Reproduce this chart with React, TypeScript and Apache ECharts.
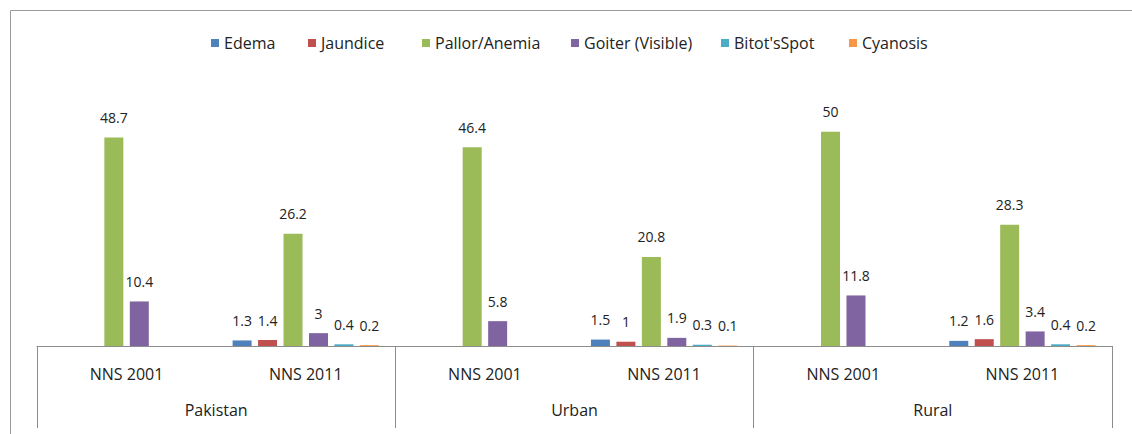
import React, { useEffect, useRef } from "react";
import * as echarts from "echarts";

const categories = ["NNS 2001", "NNS 2011", "NNS 2001", "NNS 2011", "NNS 2001", "NNS 2011"];
const groups = ["Pakistan", "Urban", "Rural"];
const seriesNames = ["Edema", "Jaundice", "Pallor/Anemia", "Goiter (Visible)", "Bitot'sSpot", "Cyanosis"];
const edema = [null, 1.3, null, 1.5, null, 1.2];
const jaundice = [null, 1.4, null, 1, null, 1.6];
const pallor = [48.7, 26.2, 46.4, 20.8, 50, 28.3];
const goiter = [10.4, 3, 5.8, 1.9, 11.8, 3.4];
const bitot = [null, 0.4, null, 0.3, null, 0.4];
const cyanosis = [null, 0.2, null, 0.1, null, 0.2];
const colors = ["#4F81BD", "#C0504D", "#9BBB59", "#8064A2", "#4BACC6", "#F79646"];

const FONT = "Open Sans";
const legendLefts = [206, 303, 417, 566, 716, 844];

export default function App() {
  const ref = useRef<HTMLDivElement>(null);
  useEffect(() => {
    document.body.style.margin = "0";
    const chart = echarts.init(ref.current!, null, { renderer: "svg" });
    const values = [edema, jaundice, pallor, goiter, bitot, cyanosis];
    chart.setOption({
      animation: false,
      color: colors,
      textStyle: { fontFamily: FONT },
      graphic: [
        {
          type: "rect",
          left: 8,
          top: 8,
          shape: { width: 1140, height: 440 },
          style: { fill: "none", stroke: "#9a9a9a", lineWidth: 1 },
          silent: true,
        },
      ],
      legend: seriesNames.map((name, i) => ({
        top: 30,
        left: legendLefts[i],
        itemWidth: 8,
        itemHeight: 8,
        itemGap: 5,
        icon: "rect",
        selectedMode: false,
        textStyle: { fontFamily: FONT, fontSize: 16, color: "#222" },
        data: [name],
      })),
      grid: { left: 37, right: 20, top: 89, bottom: 88 },
      xAxis: [
        {
          type: "category",
          data: categories,
          axisLine: { show: true, lineStyle: { color: "#8c8c8c", width: 1 } },
          axisTick: { show: false },
          axisLabel: { margin: 20, fontFamily: FONT, fontSize: 16, color: "#222" },
        },
        {
          type: "category",
          data: groups,
          position: "bottom",
          axisLine: { show: false },
          axisTick: { show: true, length: 82, lineStyle: { color: "#8c8c8c" } },
          axisLabel: { margin: 56, fontFamily: FONT, fontSize: 16, color: "#222" },
        },
      ],
      yAxis: { type: "value", min: 0, max: 60, show: false, splitLine: { show: false } },
      series: seriesNames.map((name, i) => ({
        name,
        type: "bar",
        xAxisIndex: 0,
        data: values[i],
        barWidth: 19,
        barGap: "34%",
        label: {
          show: true,
          position: "top",
          distance: 13,
          fontFamily: FONT,
          fontSize: 14,
          color: "#222",
        },
      })),
    });
    return () => chart.dispose();
  }, []);
  return <div ref={ref} style={{ width: 1132, height: 434 }} />;
}
